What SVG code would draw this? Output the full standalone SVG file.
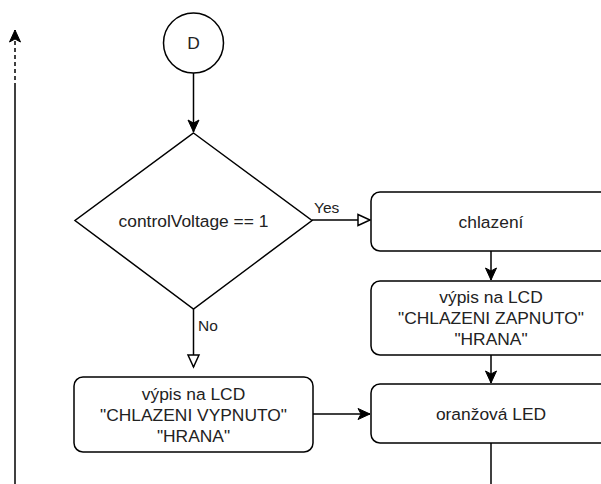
<svg xmlns="http://www.w3.org/2000/svg" width="601" height="484" viewBox="0 0 601 484">
<style>
.s{fill:#fff;stroke:#000;stroke-width:1.5}
.c{fill:none;stroke:#000;stroke-width:1.5}
.t{font-family:"Liberation Sans",Arial,sans-serif;font-size:17.4px;fill:#222;text-anchor:middle}
.l{font-family:"Liberation Sans",Arial,sans-serif;font-size:15.5px;fill:#222}
</style>
<defs>
<marker id="fa" markerUnits="userSpaceOnUse" viewBox="0 0 14 12" refX="13" refY="6" markerWidth="14" markerHeight="12" orient="auto" overflow="visible">
<path d="M1,0.5 L13,6 L1,11.5 L4,6 Z" fill="#000" stroke="#000" stroke-width="1"/>
</marker>
<marker id="oa" markerUnits="userSpaceOnUse" viewBox="0 0 14 12" refX="13" refY="6" markerWidth="14" markerHeight="12" orient="auto" overflow="visible">
<path d="M1,0.5 L13,6 L1,11.5 Z" fill="#fff" stroke="#000" stroke-width="1.5"/>
</marker>
</defs>
<g id="connectors">
<path class="c" d="M193.5,73 V132" marker-end="url(#fa)"/>
<path class="c" d="M312,220 H370" marker-end="url(#oa)"/>
<text class="l" x="314" y="213">Yes</text>
<path class="c" d="M193.5,309 V367" marker-end="url(#oa)"/>
<text class="l" x="198" y="331">No</text>
<path class="c" d="M491,251 V280" marker-end="url(#fa)"/>
<path class="c" d="M491,355 V383" marker-end="url(#fa)"/>
<path class="c" d="M313,414 H370" marker-end="url(#fa)"/>
<path class="c" d="M491,443 V484"/>
<path class="c" d="M15,484 V87"/>
<path class="c" d="M15,87 V30" stroke-dasharray="4 3" marker-end="url(#fa)"/>
</g>
<g id="nodeD">
<circle class="s" cx="193.5" cy="43" r="30"/>
<text class="t" x="193.5" y="49">D</text>
</g>
<g id="decision">
<path class="s" d="M193.5,133 L312,220.5 L193.5,309 L75,220.5 Z"/>
<text class="t" x="193.5" y="226.5">controlVoltage == 1</text>
</g>
<g id="chlazeni">
<rect class="s" x="371" y="192" width="240" height="59" rx="9"/>
<text class="t" x="491" y="227.5">chlazení</text>
</g>
<g id="lcdOn">
<rect class="s" x="371" y="281" width="240" height="74" rx="9"/>
<text class="t" x="491" y="303.3">výpis na LCD</text>
<text class="t" x="491" y="324.2">"CHLAZENI ZAPNUTO"</text>
<text class="t" x="491" y="345.1">"HRANA"</text>
</g>
<g id="lcdOff">
<rect class="s" x="74" y="377" width="239" height="75" rx="9"/>
<text class="t" x="193.5" y="399.8">výpis na LCD</text>
<text class="t" x="193.5" y="420.7">"CHLAZENI VYPNUTO"</text>
<text class="t" x="193.5" y="441.6">"HRANA"</text>
</g>
<g id="led">
<rect class="s" x="371" y="384" width="240" height="59" rx="9"/>
<text class="t" x="491" y="419.5">oranžová LED</text>
</g>
</svg>
